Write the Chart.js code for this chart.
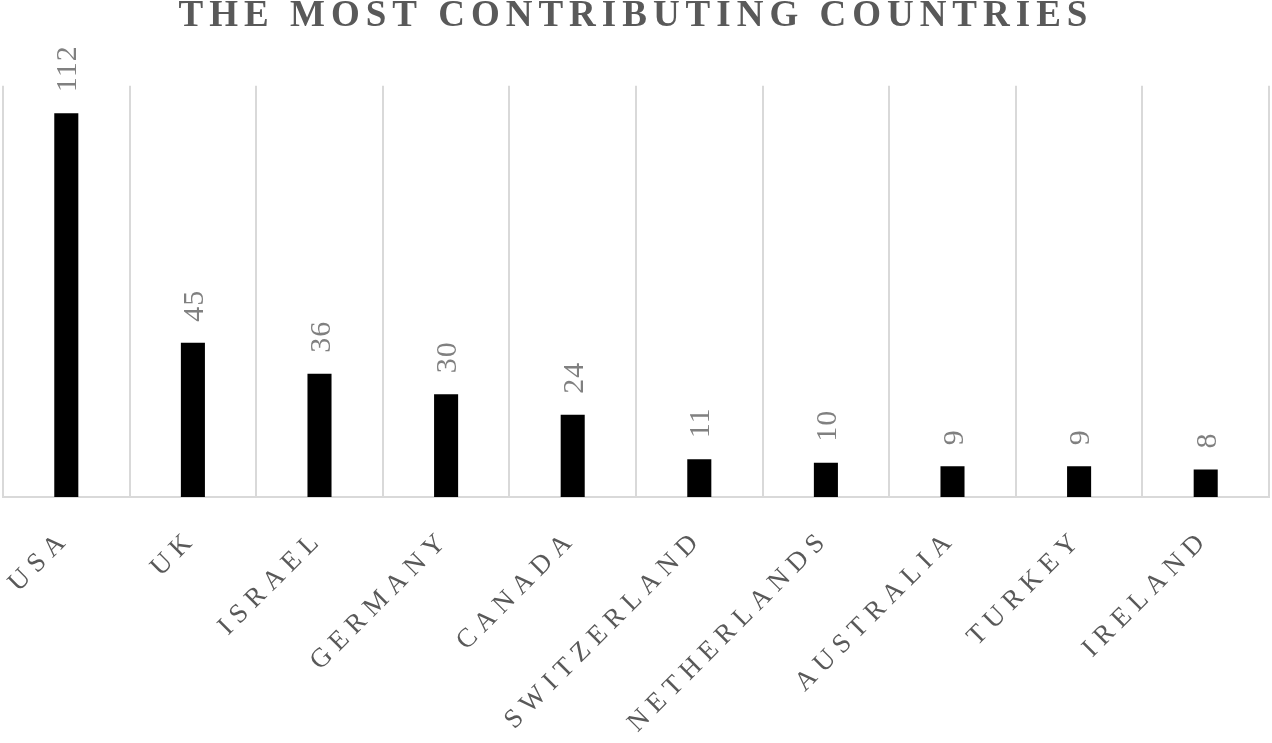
<!DOCTYPE html>
<html>
<head>
<meta charset="utf-8">
<script src="https://cdn.jsdelivr.net/npm/chart.js@4/dist/chart.umd.min.js"></script>
<style>
  html, body { margin: 0; padding: 0; background: #ffffff; }
  #wrap { width: 1272px; height: 743px; position: relative; }
</style>
</head>
<body>
<div id="wrap"><canvas id="c" width="1272" height="743"></canvas></div>
<script>
const titleText = "THE MOST CONTRIBUTING COUNTRIES";
const countries = ["USA", "UK", "ISRAEL", "GERMANY", "CANADA", "SWITZERLAND", "NETHERLANDS", "AUSTRALIA", "TURKEY", "IRELAND"];
const contributions = [112, 45, 36, 30, 24, 11, 10, 9, 9, 8];
const yMin = 0;
const yMax = 120;

const SERIF = "'Liberation Serif', 'DejaVu Serif', serif";

const spacingPlugin = {
  id: 'spacing',
  afterUpdate(chart) {
    const s = chart.scales.x;
    if (s && !s._spacedLabels) {
      const orig = s.drawLabels.bind(s);
      s.drawLabels = function (ca) {
        const c = this.ctx;
        const prev = c.letterSpacing;
        c.letterSpacing = '7px';
        orig(ca);
        c.letterSpacing = prev;
      };
      s._spacedLabels = true;
    }
  },
  beforeDraw(chart) {
    chart.ctx.letterSpacing = '6px';
  },
  afterDraw(chart) {
    chart.ctx.letterSpacing = '0px';
  }
};

const valueLabels = {
  id: 'valueLabels',
  afterDatasetsDraw(chart) {
    const ctx = chart.ctx;
    const meta = chart.getDatasetMeta(0);
    const data = chart.data.datasets[0].data;
    ctx.save();
    ctx.letterSpacing = '1px';
    ctx.font = "30px " + SERIF;
    ctx.fillStyle = '#808080';
    ctx.textAlign = 'left';
    ctx.textBaseline = 'alphabetic';
    meta.data.forEach((bar, i) => {
      ctx.save();
      ctx.translate(bar.x + 10, bar.y - 21);
      ctx.rotate(-Math.PI / 2);
      ctx.fillText(String(data[i]), 0, 0);
      ctx.restore();
    });
    ctx.restore();
  }
};

new Chart(document.getElementById('c'), {
  type: 'bar',
  data: {
    labels: countries,
    datasets: [{
      data: contributions,
      backgroundColor: '#000000',
      borderWidth: 0,
      barPercentage: 0.19,
      categoryPercentage: 1.0
    }]
  },
  options: {
    responsive: false,
    animation: false,
    devicePixelRatio: 1,
    layout: { padding: { left: 3, right: 3, top: 0, bottom: 0 } },
    plugins: {
      legend: { display: false },
      tooltip: { enabled: false },
      title: {
        display: true,
        text: titleText,
        color: '#595959',
        font: { family: SERIF, size: 37, weight: 'bold', lineHeight: 0.75 },
        padding: { top: 3, bottom: 55 }
      }
    },
    scales: {
      x: {
        grid: { display: true, offset: true, color: '#d9d9d9', lineWidth: 2, drawTicks: false },
        border: { display: true, color: '#d9d9d9', width: 2 },
        ticks: {
          color: '#595959',
          font: { family: SERIF, size: 27 },
          minRotation: 45,
          maxRotation: 45,
          autoSkip: false,
          padding: 26
        },
        afterFit(scale) { scale.height = 246; }
      },
      y: {
        display: false,
        min: yMin,
        max: yMax
      }
    }
  },
  plugins: [spacingPlugin, valueLabels]
});
</script>
</body>
</html>
